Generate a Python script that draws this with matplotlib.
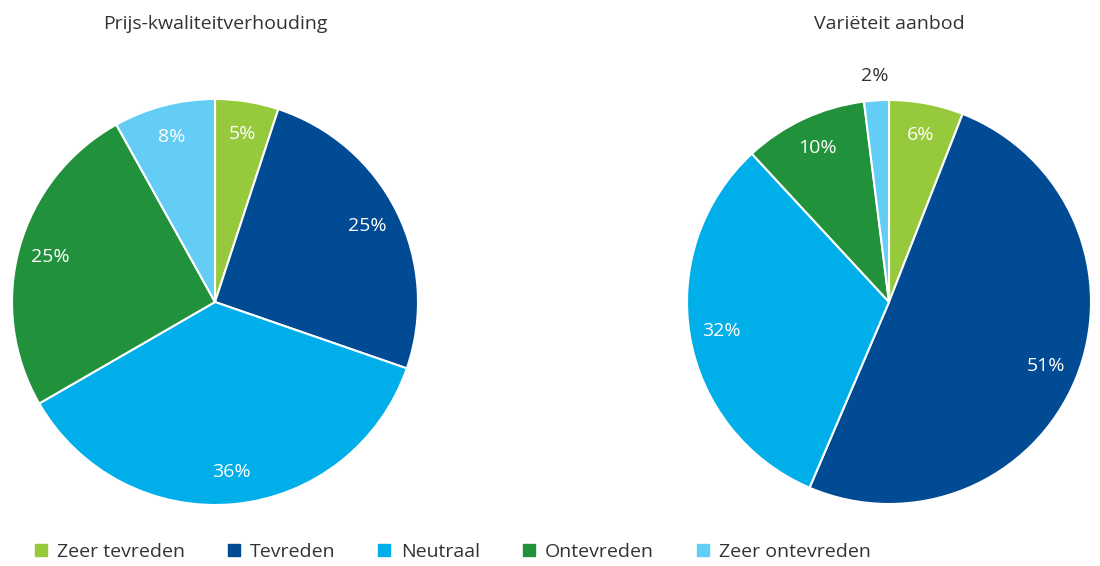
import matplotlib
matplotlib.use("Agg")
import matplotlib.pyplot as plt
from matplotlib.lines import Line2D

plt.rcParams['font.family'] = ['Open Sans', 'DejaVu Sans']

categories = ["Zeer tevreden", "Tevreden", "Neutraal", "Ontevreden", "Zeer ontevreden"]
colors = ["#97c93d", "#004b93", "#00aeea", "#21913c", "#63cdf5"]
titles = ["Prijs-kwaliteitverhouding", "Variëteit aanbod"]
values_left = [5, 25, 36, 25, 8]
values_right = [6, 51, 32, 10, 2]

W, H = 1100, 566
fig = plt.figure(figsize=(W / 100, H / 100), dpi=100)
PD = 0.84

def make_pie(cx, cy, r, values, title):
    ax = fig.add_axes([(cx - r) / W, 1 - (cy + r) / H, 2 * r / W, 2 * r / H])
    wedges, texts, autotexts = ax.pie(
        values, colors=colors, startangle=90, counterclock=False,
        autopct=lambda p: "", pctdistance=PD,
        wedgeprops=dict(edgecolor="white", linewidth=1.5))
    for v, at in zip(values, autotexts):
        x, y = at.get_position()
        at.set_text(f"{v}%")
        at.set_fontsize(14)
        if v <= 3:
            at.set_position((x * 1.12 / PD, y * 1.12 / PD))
            at.set_color("#333333")
        else:
            at.set_color("white")
    ax.set_xlim(-1, 1)
    ax.set_ylim(-1, 1)
    ax.set_aspect("equal")
    ax.axis("off")
    fig.text(cx / W, 1 - 24 / H, title, ha="center", va="center",
             fontsize=14, color="#333333")

make_pie(215, 302, 203, values_left, titles[0])
make_pie(889, 302, 202, values_right, titles[1])

handles = [Line2D([0], [0], marker="s", linestyle="none", markersize=9,
                  markerfacecolor=c, markeredgecolor=c) for c in colors]
leg = fig.legend(handles, categories, loc="center left",
                 bbox_to_anchor=(25 / W, 1 - 552 / H), ncol=5, frameon=False,
                 fontsize=14, handlelength=0.8, handletextpad=0.45,
                 columnspacing=2.1, borderaxespad=0)
for t in leg.get_texts():
    t.set_color("#333333")

fig.savefig("out.png", dpi=100)
